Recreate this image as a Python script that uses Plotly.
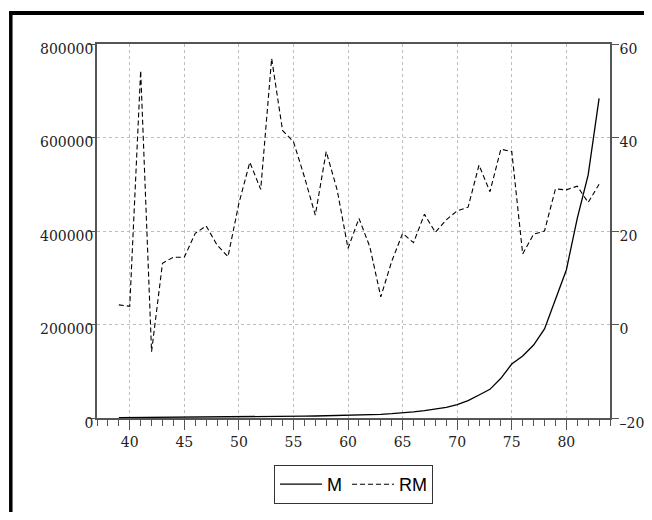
import plotly.graph_objects as go

years = list(range(39, 84))
m_values = [800, 900, 1000, 1100, 1200, 1300, 1400, 1500, 1700, 1900,
            2000, 2200, 2500, 2800, 3100, 3400, 3700, 4000, 4300, 4700,
            5000, 5500, 6200, 7000, 7900, 9200, 10700, 13000, 15600, 18500,
            22900, 28500, 37000, 49200, 61300, 84900, 115500, 132600, 156100, 190400,
            252400, 316600, 427000, 520000, 683800]
rm_values = [4.2, 3.9, 54.3, -5.8, 13.1, 14.4, 14.4, 19.5, 21.1, 17.0,
             14.5, 25.9, 34.7, 28.9, 56.9, 41.5, 39.1, 31.6, 23.4, 37.0,
             28.8, 16.3, 22.7, 16.6, 5.9, 13.5, 19.5, 17.5, 23.6, 19.7,
             22.4, 24.3, 25.1, 34.1, 28.4, 37.5, 37.0, 15.1, 19.3, 20.0,
             29.0, 28.8, 29.6, 26.1, 30.0]
x_ticks = [40, 45, 50, 55, 60, 65, 70, 75, 80]
left_ticks = [0, 200000, 400000, 600000, 800000]
left_labels = ["0", "200000", "400000", "600000", "800000"]
right_ticks = [-20, 0, 20, 40, 60]
right_labels = ["\u201320", "0", "20", "40", "60"]

# page body has an 8px margin, so the figure is sized to fit inside the window
W, H = 644, 504
L, R, T, B = 89, 42, 36, 94
pw, ph = W - L - R, H - T - B

tick_font = dict(family="DejaVu Serif", size=14, color="#222")
axis_col = "#555"

fig = go.Figure()
fig.add_trace(go.Scatter(x=years, y=m_values, name="M", mode="lines",
                         line=dict(color="black", width=1.3), yaxis="y"))
fig.add_trace(go.Scatter(x=years, y=rm_values, name="RM", mode="lines",
                         line=dict(color="black", width=1.1, dash="5px,3px"), yaxis="y2"))

fig.update_layout(
    width=W, height=H,
    margin=dict(l=L, r=R, t=T, b=B, pad=0, autoexpand=False),
    paper_bgcolor="white", plot_bgcolor="white",
    showlegend=True,
    legend=dict(orientation="h", x=(345.5 - L) / pw, xanchor="center",
                yref="container", y=(H - 457) / H, yanchor="top",
                bordercolor="#333", borderwidth=1, bgcolor="white",
                font=dict(family="Liberation Sans", size=18, color="black"),
                itemwidth=42, tracegroupgap=0),
    xaxis=dict(range=[37, 84], tickvals=x_ticks, ticks="outside", ticklen=10,
               tickcolor=axis_col, tickwidth=1.3, automargin=False,
               showline=True, linecolor=axis_col, linewidth=1.5, mirror=True,
               showgrid=True, gridcolor="#bdbdbd", griddash="dot", gridwidth=1,
               zeroline=False, tickfont=tick_font,
               minor=dict(dtick=1, tick0=0, ticks="outside", ticklen=6,
                          tickcolor=axis_col, tickwidth=1.3, showgrid=False)),
    yaxis=dict(range=[0, 800000], tickvals=left_ticks, ticktext=left_labels,
               ticks="outside", ticklen=7, tickcolor=axis_col, tickwidth=1.3,
               automargin=False,
               showline=True, linecolor=axis_col, linewidth=1.5,
               showgrid=True, gridcolor="#bdbdbd", griddash="dot", gridwidth=1,
               zeroline=False, tickfont=tick_font,
               ticklabelstandoff=-8, ticklabelshift=5),
    yaxis2=dict(range=[-20, 60], tickvals=right_ticks, ticktext=right_labels,
                overlaying="y", side="right",
                ticks="outside", ticklen=7, tickcolor=axis_col, tickwidth=1.3,
                automargin=False,
                showline=True, linecolor=axis_col, linewidth=1.5,
                showgrid=False, zeroline=False, tickfont=tick_font,
                ticklabelstandoff=-2, ticklabelshift=5),
)

# outer thick frame (top and left edges visible)
def px_x(x):
    return (x - L) / pw
def px_y(y):
    return (H - B - y) / ph

fig.add_shape(type="line", xref="paper", yref="paper",
              x0=px_x(1), x1=px_x(W + 5), y0=px_y(5), y1=px_y(5),
              line=dict(color="black", width=4))
fig.add_shape(type="line", xref="paper", yref="paper",
              x0=px_x(2.8), x1=px_x(2.8), y0=px_y(3), y1=px_y(H + 5),
              line=dict(color="black", width=3.5))

fig.write_html("out.html")
